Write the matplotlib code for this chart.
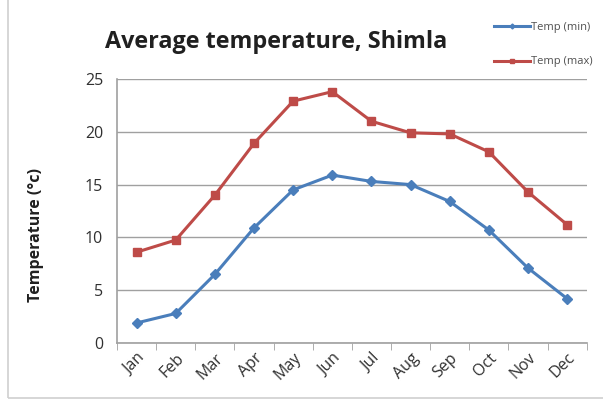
import matplotlib
matplotlib.use('Agg')
import matplotlib.pyplot as plt
from matplotlib.patches import Rectangle

months = ['Jan', 'Feb', 'Mar', 'Apr', 'May', 'Jun', 'Jul', 'Aug', 'Sep', 'Oct', 'Nov', 'Dec']
temp_min = [1.9, 2.8, 6.5, 10.9, 14.5, 15.9, 15.3, 15.0, 13.4, 10.7, 7.1, 4.2]
temp_max = [8.6, 9.75, 14.0, 18.9, 22.9, 23.8, 21.0, 19.9, 19.8, 18.1, 14.3, 11.2]
yticks = [0, 5, 10, 15, 20, 25]

plt.rcParams['font.family'] = ['Open Sans', 'DejaVu Sans']

fig = plt.figure(figsize=(6.03, 4.05), dpi=100)
ax = fig.add_axes([0.194, 0.153, 0.779, 0.652])

# outer chart frame
fig.patches.append(Rectangle((8 / 603, 7 / 405), 1.2, 1.2, transform=fig.transFigure,
                             fill=False, edgecolor='#d0d0d0', linewidth=1.2))

x = list(range(len(months)))
ax.plot(x, temp_min, color='#4a7ebb', lw=2.2, marker='D', ms=5, label='Temp (min)')
ax.plot(x, temp_max, color='#be4b48', lw=2.2, marker='s', ms=6, label='Temp (max)')

ax.set_xlim(-0.5, 11.5)
ax.set_ylim(0, 25)
ax.set_yticks(yticks)
ax.set_xticks(x)
ax.set_xticklabels(months, rotation=45, fontsize=11.5, color='#303030')
ax.set_xticks([i - 0.5 for i in range(13)], minor=True)
ax.tick_params(axis='x', which='major', length=0, pad=5)
ax.tick_params(axis='x', which='minor', length=5, color='#a0a0a0', direction='out')
ax.tick_params(axis='y', length=0, labelsize=11.5, pad=10, labelcolor='#303030')
for lab in ax.get_xticklabels():
    lab.set_ha('right')
    lab.set_rotation_mode('anchor')

ax.grid(axis='y', color='#a0a0a0', lw=1)
ax.set_axisbelow(True)
for s in ['top', 'right']:
    ax.spines[s].set_visible(False)
for s in ['left', 'bottom']:
    ax.spines[s].set_color('#a0a0a0')
    ax.spines[s].set_linewidth(1.2)

fig.text(0.06, 0.42, 'Temperature (°c)', fontsize=11.5, fontweight='bold',
         rotation=90, ha='center', va='center', color='#202020')
fig.text(0.174, 0.896, 'Average temperature, Shimla', fontsize=16.8, fontweight='bold',
         color='#202020', va='center')

leg = fig.legend(loc='upper right', bbox_to_anchor=(1.0, 0.97), fontsize=8, frameon=False,
                 handlelength=3.3, handletextpad=0.1, labelspacing=2.1, markerscale=0.5)
for t in leg.get_texts():
    t.set_color('#505050')

fig.savefig('out.png', dpi=100)
